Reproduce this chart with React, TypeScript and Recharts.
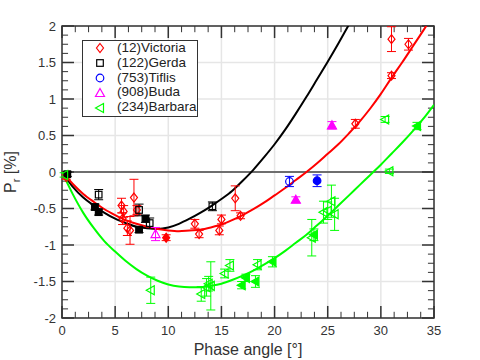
import React from 'react';
import { ComposedChart, Line, Scatter, XAxis, YAxis, CartesianGrid, ReferenceLine, ReferenceArea, ErrorBar } from 'recharts';

const FONT = '"Liberation Sans", Arial, sans-serif';

const X_TICKS = [0, 5, 10, 15, 20, 25, 30, 35];
const X_MINOR = [1.25, 2.5, 3.75, 6.25, 7.5, 8.75, 11.25, 12.5, 13.75, 16.25, 17.5, 18.75, 21.25, 22.5, 23.75, 26.25, 27.5, 28.75, 31.25, 32.5, 33.75];
const Y_TICKS = [-2, -1.5, -1, -0.5, 0, 0.5, 1, 1.5, 2];
const Y_MINOR = [-1.875, -1.75, -1.625, -1.375, -1.25, -1.125, -0.875, -0.75, -0.625, -0.375, -0.25, -0.125, 0.125, 0.25, 0.375, 0.625, 0.75, 0.875, 1.125, 1.25, 1.375, 1.625, 1.75, 1.875];

// fitted phase curves at whole degrees
const CURVE_X = [0, 1, 2, 3, 4, 5, 6, 7, 8, 9, 10, 11, 12, 13, 14, 15, 16, 17, 18, 19, 20, 21, 22, 23, 24, 25, 26, 27, 28, 29, 30, 31, 32, 33, 34, 35];
const GERDA_FIT = [0, -0.2, -0.35, -0.46, -0.56, -0.64, -0.7, -0.75, -0.77, -0.78, -0.76, -0.71, -0.64, -0.56, -0.47, -0.37, -0.26, -0.12, 0.03, 0.2, 0.38, 0.58, 0.8, 1.03, 1.27, 1.51, 1.76, 2.02, 2.29];
const VICTORIA_FIT = [0, -0.16, -0.3, -0.41, -0.51, -0.59, -0.66, -0.71, -0.75, -0.78, -0.8, -0.81, -0.8, -0.79, -0.76, -0.72, -0.66, -0.59, -0.51, -0.42, -0.32, -0.22, -0.11, 0, 0.12, 0.25, 0.38, 0.53, 0.69, 0.87, 1.07, 1.29, 1.5, 1.72, 1.94, 2.17];
const BARBARA_FIT = [0, -0.3, -0.56, -0.77, -0.95, -1.09, -1.22, -1.33, -1.42, -1.49, -1.54, -1.57, -1.58, -1.58, -1.56, -1.53, -1.48, -1.42, -1.35, -1.27, -1.18, -1.08, -0.97, -0.86, -0.73, -0.6, -0.46, -0.32, -0.18, -0.04, 0.1, 0.25, 0.4, 0.56, 0.73, 0.92];

// observations: [phase angle, Pr, error]
const VICTORIA_OPEN = [[0.4, -0.07, 0.03], [5.6, -0.46, 0.1], [5.8, -0.54, 0.08], [5.7, -0.64, 0.08], [6.15, -0.77, 0.1], [6.4, -0.8, 0.19], [6.77, -0.35, 0.25], [7.05, -0.52, 0.06], [12.5, -0.71, 0.06], [12.9, -0.85, 0.05], [14.8, -0.8, 0.06], [15.0, -0.65, 0.06], [16.3, -0.36, 0.17], [16.8, -0.6, 0.04], [27.6, 0.66, 0.06], [31.0, 1.32, 0.04], [31.0, 1.82, 0.17], [32.6, 1.75, 0.08]];
const VICTORIA_FILLED = [[9.8, -0.9, 0.04]];
const GERDA_OPEN = [[3.45, -0.31, 0.07], [7.25, -0.52, 0.08], [8.25, -0.7, 0.07], [14.15, -0.47, 0.06]];
const GERDA_FILLED = [[0.5, -0.03, 0.03], [3.1, -0.48, 0.04], [3.45, -0.55, 0.04], [7.85, -0.64, 0.05], [7.25, -0.79, 0.04]];
const TIFLIS_OPEN = [[21.4, -0.13, 0.07]];
const TIFLIS_FILLED = [[24.0, -0.12, 0.08]];
const BUDA_OPEN = [[8.8, -0.85, 0.09]];
const BUDA_FILLED = [[22.0, -0.38, 0.04], [25.4, 0.64, 0.05]];
const BARBARA_OPEN = [[0.2, -0.04, 0.03], [8.35, -1.62, 0.18], [13.1, -1.67, 0.1], [13.6, -1.58, 0.12], [13.8, -1.53, 0.1], [14.0, -1.56, 0.33], [15.3, -1.39, 0.06], [15.8, -1.28, 0.08], [18.4, -1.27, 0.07], [23.5, -0.9, 0.25], [24.6, -0.55, 0.15], [25.0, -0.53, 0.12], [25.35, -0.4, 0.22], [25.65, -0.58, 0.22], [30.4, 0.72, 0.04], [30.8, 0.01, 0.03]];
const BARBARA_FILLED = [[16.9, -1.55, 0.05], [17.3, -1.45, 0.05], [18.2, -1.5, 0.08], [19.8, -1.23, 0.07], [23.7, -0.86, 0.08], [33.4, 0.63, 0.05]];

const LEGEND = [
  { name: '(12)Victoria', kind: 'diamond', color: '#ff0000' },
  { name: '(122)Gerda', kind: 'square', color: '#000000' },
  { name: '(753)Tiflis', kind: 'circle', color: '#0000ff' },
  { name: '(908)Buda', kind: 'triangle', color: '#ff00ff' },
  { name: '(234)Barbara', kind: 'left', color: '#00ff00' },
];

const curve = (ys: number[]) => ys.map((y, i) => ({ x: CURVE_X[i], y }));
const points = (rows: number[][]) => rows.map(([x, y, e]) => ({ x, y, e }));

// inward tick marks, lengths in data units (12px / 6px)
const XT_MAJ = 0.165, XT_MIN = 0.085;
const YT_MAJ = 1.13, YT_MIN = 0.57;

const Marker = ({ cx, cy, kind, color, filled }: any) => {
  if (cx == null || cy == null) return null;
  const st = { stroke: color, strokeWidth: 1.2, fill: filled ? color : 'none' };
  if (kind === 'circle') return <circle cx={cx} cy={cy} r={3.8} {...st} />;
  if (kind === 'square') return <rect x={cx - 3.3} y={cy - 3.3} width={6.6} height={6.6} {...st} />;
  let pts = '';
  if (kind === 'diamond') pts = `${cx},${cy - 4.5} ${cx + 3.5},${cy} ${cx},${cy + 4.5} ${cx - 3.5},${cy}`;
  if (kind === 'triangle') pts = `${cx},${cy - 4.5} ${cx + 4.5},${cy + 3.5} ${cx - 4.5},${cy + 3.5}`;
  if (kind === 'left') pts = `${cx - 4.5},${cy} ${cx + 3.5},${cy - 4.5} ${cx + 3.5},${cy + 4.5}`;
  return <polygon points={pts} {...st} />;
};

const series = [
  { rows: VICTORIA_OPEN, kind: 'diamond', color: '#ff0000', filled: false },
  { rows: VICTORIA_FILLED, kind: 'diamond', color: '#ff0000', filled: true },
  { rows: GERDA_OPEN, kind: 'square', color: '#000000', filled: false },
  { rows: GERDA_FILLED, kind: 'square', color: '#000000', filled: true },
  { rows: TIFLIS_OPEN, kind: 'circle', color: '#0000ff', filled: false },
  { rows: TIFLIS_FILLED, kind: 'circle', color: '#0000ff', filled: true },
  { rows: BUDA_OPEN, kind: 'triangle', color: '#ff00ff', filled: false },
  { rows: BUDA_FILLED, kind: 'triangle', color: '#ff00ff', filled: true },
  { rows: BARBARA_OPEN, kind: 'left', color: '#00ff00', filled: false },
  { rows: BARBARA_FILLED, kind: 'left', color: '#00ff00', filled: true },
];

const YLabel = () => (
  <text transform="translate(16,172) rotate(-90)" textAnchor="middle" fontSize={16} fill="#333">
    P<tspan fontSize={11} dy={4}>r</tspan><tspan dy={-4}> [%]</tspan>
  </text>
);

const XLabel = () => (
  <text x={248} y={355} textAnchor="middle" fontSize={16} fill="#333">Phase angle [°]</text>
);

const tickSegs: { seg: { x: number; y: number }[]; major: boolean }[] = [];
[...X_TICKS.map((x) => [x, true] as const), ...X_MINOR.map((x) => [x, false] as const)].forEach(([x, major]) => {
  const len = major ? XT_MAJ : XT_MIN;
  tickSegs.push({ seg: [{ x, y: -2 }, { x, y: -2 + len }], major });
  tickSegs.push({ seg: [{ x, y: 2 }, { x, y: 2 - len }], major });
});
[...Y_TICKS.map((y) => [y, true] as const), ...Y_MINOR.map((y) => [y, false] as const)].forEach(([y, major]) => {
  const len = major ? YT_MAJ : YT_MIN;
  tickSegs.push({ seg: [{ x: 0, y }, { x: len, y }], major });
  tickSegs.push({ seg: [{ x: 35, y }, { x: 35 - len, y }], major });
});

export default function App() {
  return (
    <div style={{ position: 'absolute', left: 0, top: 0, width: 480, height: 360, fontFamily: FONT, background: '#fff' }}>
      <ComposedChart width={480} height={360} margin={{ top: 26, right: 46, left: 0, bottom: 0 }}>
        <CartesianGrid stroke="#e6e6e6" strokeWidth={1.5} />
        <XAxis dataKey="x" type="number" domain={[0, 35]} ticks={X_TICKS} allowDataOverflow height={42}
          tickLine={false} axisLine={false} tick={{ fontSize: 13, fill: '#333' }}
          tickSize={6} tickMargin={2} label={<XLabel />} />
        <YAxis type="number" domain={[-2, 2]} ticks={Y_TICKS} allowDataOverflow width={62}
          tickLine={false} axisLine={false} tick={{ fontSize: 13, fill: '#333' }}
          tickSize={6} tickMargin={0} label={<YLabel />} />
        <ReferenceLine y={0} stroke="#444" strokeWidth={1.5} />
        {tickSegs.map((t, i) => (
          <ReferenceLine key={'t' + i} segment={t.seg} stroke="#333" strokeWidth={t.major ? 1.5 : 1} />
        ))}
        <ReferenceArea x1={0} x2={35} y1={-2} y2={2} fill="none" fillOpacity={0} stroke="#333" strokeWidth={1.5} />
        <Line data={curve(GERDA_FIT)} dataKey="y" type="monotone" stroke="#000" strokeWidth={2} dot={false} isAnimationActive={false} />
        <Line data={curve(VICTORIA_FIT)} dataKey="y" type="monotone" stroke="#ff0000" strokeWidth={2} dot={false} isAnimationActive={false} />
        <Line data={curve(BARBARA_FIT)} dataKey="y" type="monotone" stroke="#00ff00" strokeWidth={2} dot={false} isAnimationActive={false} />
        {series.map((s, i) => (
          <Scatter key={i} data={points(s.rows)} dataKey="y" isAnimationActive={false}
            shape={(p: any) => <Marker cx={p.cx} cy={p.cy} kind={s.kind} color={s.color} filled={s.filled} />}>
            <ErrorBar dataKey="e" direction="y" width={4.5} stroke={s.color} strokeWidth={1} />
          </Scatter>
        ))}
      </ComposedChart>
      <div style={{ position: 'absolute', left: 82, top: 40, width: 114, height: 75, border: '1.5px solid #333', background: '#fff', fontSize: 13.5, color: '#222' }}>
        {LEGEND.map((l) => (
          <div key={l.name} style={{ height: 14.8, display: 'flex', alignItems: 'center' }}>
            <svg width={34} height={14} style={{ flexShrink: 0 }}>
              <Marker cx={17} cy={7} kind={l.kind} color={l.color} filled={false} />
            </svg>
            <span style={{ lineHeight: '14.8px' }}>{l.name}</span>
          </div>
        ))}
      </div>
    </div>
  );
}
